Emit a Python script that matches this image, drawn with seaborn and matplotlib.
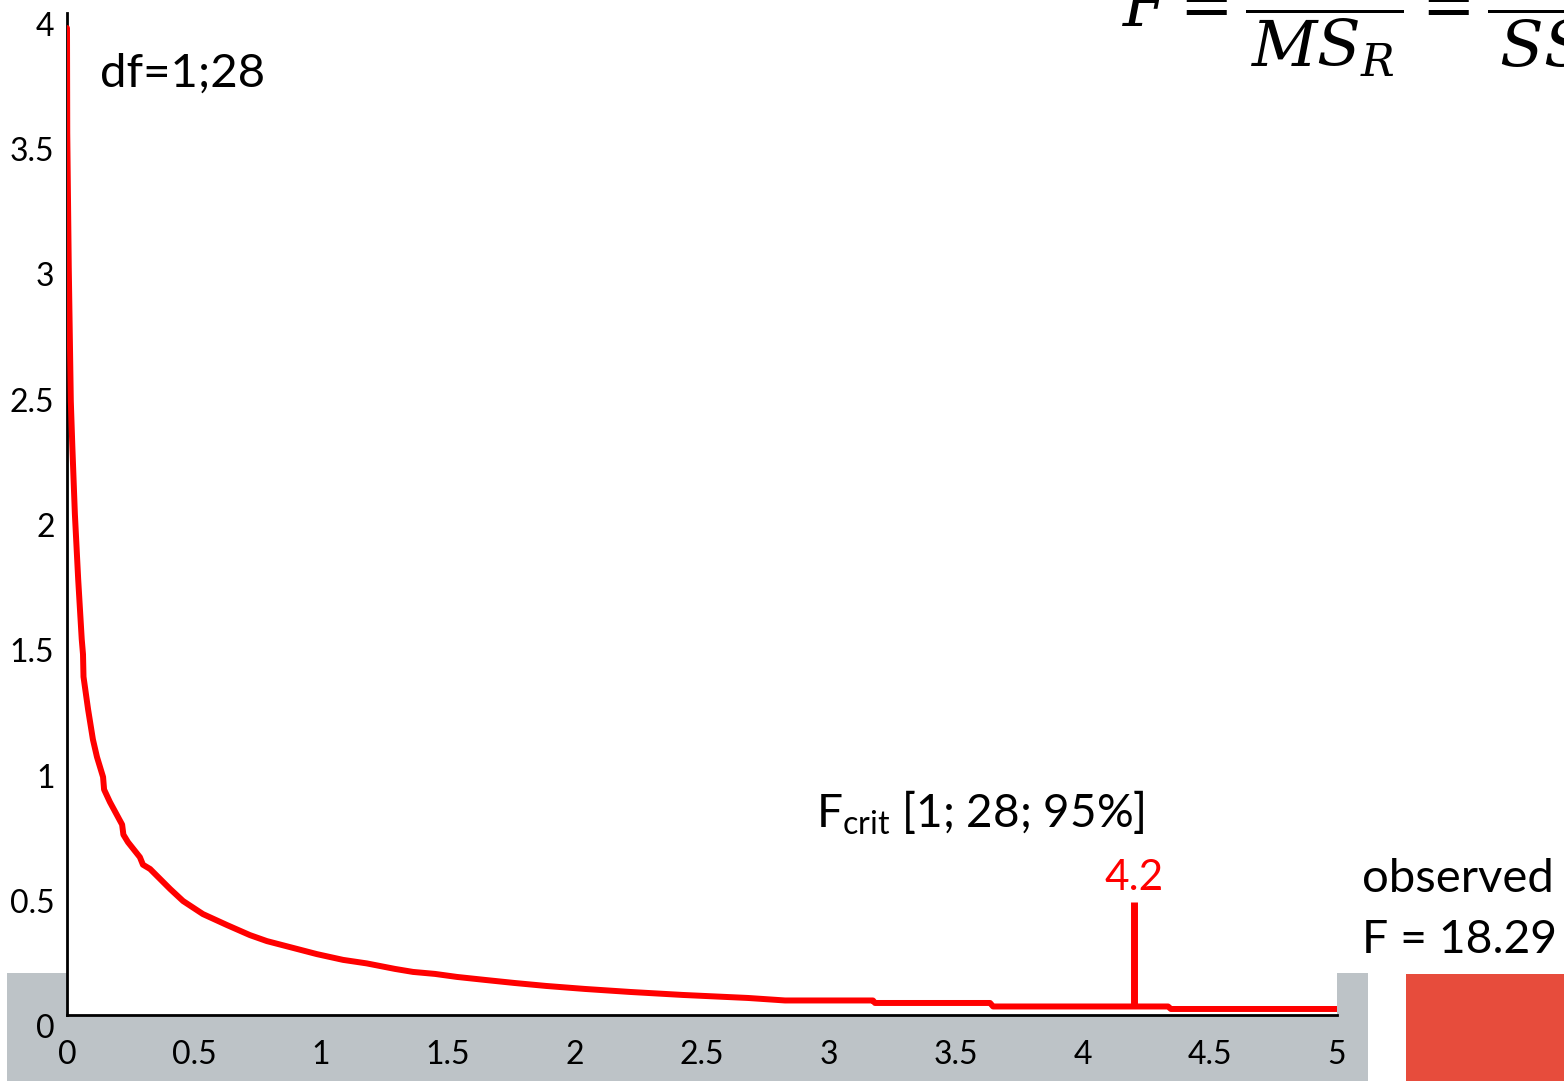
import numpy as np
import pandas as pd
import seaborn as sns
import matplotlib
matplotlib.use("Agg")
import matplotlib.pyplot as plt
from matplotlib.patches import Rectangle
from matplotlib.transforms import ScaledTranslation

# F(1, 28) density, sampled along the curve
f_values = [0.000, 0.001, 0.007, 0.015, 0.021, 0.031, 0.044, 0.058, 0.063, 0.065,
            0.083, 0.102, 0.118, 0.142, 0.146, 0.169, 0.217, 0.222, 0.240, 0.287,
            0.299, 0.327, 0.406, 0.457, 0.535, 0.630, 0.720, 0.787, 0.878, 0.984,
            1.087, 1.180, 1.291, 1.362, 1.449, 1.535, 1.646, 1.760, 1.886, 2.039,
            2.217, 2.425, 2.681, 2.827, 3.173, 3.181, 3.634, 3.646, 4.335, 4.346,
            5.000]
density = [3.94, 3.52, 2.98, 2.45, 2.27, 2.00, 1.74, 1.50, 1.44, 1.35,
           1.22, 1.10, 1.03, 0.95, 0.90, 0.85, 0.76, 0.72, 0.69, 0.63,
           0.60, 0.583, 0.503, 0.455, 0.403, 0.359, 0.319, 0.295, 0.271, 0.243,
           0.220, 0.206, 0.184, 0.172, 0.164, 0.152, 0.14, 0.128, 0.116, 0.104,
           0.092, 0.08, 0.068, 0.058, 0.058, 0.048, 0.048, 0.034, 0.034, 0.024,
           0.024]

x_ticks = [0, 0.5, 1, 1.5, 2, 2.5, 3, 3.5, 4, 4.5, 5]
x_tick_labels = ["0", "0.5", "1", "1.5", "2", "2.5", "3", "3.5", "4", "4.5", "5"]
y_ticks = [0, 0.5, 1, 1.5, 2, 2.5, 3, 3.5, 4]
y_tick_labels = ["0", "0.5", "1", "1.5", "2", "2.5", "3", "3.5", "4"]

df_num, df_den = 1, 28
F_CRIT = 4.2
CRIT_MARKER_TOP = 0.45
F_OBS = 18.29

sns.set_theme(style="white")
plt.rcParams["font.family"] = ["Lato", "DejaVu Sans"]
plt.rcParams["text.color"] = "black"
plt.rcParams["xtick.color"] = "black"
plt.rcParams["ytick.color"] = "black"

W, H = 1564, 1081
DPI = 100
fig = plt.figure(figsize=(W / DPI, H / DPI), dpi=DPI)
fig.patch.set_facecolor("white")


def fx(px):
    return px / W


def fy(py):
    return 1 - py / H


# slide decoration: grey strip behind the axis labels, red block at right
fig.add_artist(Rectangle((fx(7), 0), (1368 - 7) / W, (H - 973) / H,
                         transform=fig.transFigure, color="#BDC3C7",
                         zorder=-1, lw=0))
fig.add_artist(Rectangle((fx(1406), 0), (W - 1406) / W, (H - 974) / H,
                         transform=fig.transFigure, color="#E74C3C",
                         zorder=2, lw=0))

ax = fig.add_axes([fx(67), fy(1015), 1270 / W, (1015 - 13) / H])
ax.set_facecolor("white")

curve = pd.DataFrame({"F": f_values, "density": density})
sns.lineplot(data=curve, x="F", y="density", ax=ax, color="#FF0000",
             linewidth=4.3, sort=False, estimator=None, zorder=4)

# critical value marker
crit_base = np.interp(F_CRIT, f_values, density)
ax.vlines(F_CRIT, crit_base, CRIT_MARKER_TOP, color="#FF0000", linewidth=5,
          zorder=4)
ax.text(F_CRIT, CRIT_MARKER_TOP + 0.02, f"{F_CRIT:.1f}", color="#FF0000",
        fontsize=30.5, ha="center", va="bottom")

ax.set_xlim(0, 5)
ax.set_ylim(0, 4)
ax.set_xticks(x_ticks)
ax.set_xticklabels(x_tick_labels)
ax.set_yticks(y_ticks)
ax.set_yticklabels(y_tick_labels)
ax.set_xlabel("")
ax.set_ylabel("")

for side in ("top", "right"):
    ax.spines[side].set_visible(False)
for side in ("left", "bottom"):
    ax.spines[side].set_color("black")
    ax.spines[side].set_linewidth(2)

ax.tick_params(axis="x", direction="in", length=11, width=1.8, color="black",
               labelsize=23, pad=18, labelcolor="black")
ax.tick_params(axis="y", direction="in", length=9.5, width=1.8, color="black",
               labelsize=23, pad=9, labelcolor="black")
shift = ScaledTranslation(0, -11 / DPI, fig.dpi_scale_trans)
for lab in ax.get_yticklabels():
    lab.set_transform(lab.get_transform() + shift)

# annotations
fig.text(fx(100), fy(87), f"df={df_num};{df_den}", fontsize=34,
         ha="left", va="baseline")
fig.text(fx(816), fy(828),
         r"$\mathregular{F_{crit}}$" + f" [{df_num}; {df_den}; 95%]",
         fontsize=33, ha="left", va="baseline")
fig.text(fx(1362), fy(892), "observed", fontsize=34, ha="left", va="baseline")
fig.text(fx(1362), fy(953), f"F = {F_OBS:.2f}", fontsize=33.3, ha="left",
         va="baseline")

# test statistic definition
fig.text(fx(1122), fy(9),
         r"$F=\dfrac{MS_M}{MS_R}=\dfrac{SS_M/df_M}{SS_R/df_R}$",
         fontsize=46, ha="left", va="center", math_fontfamily="dejavuserif")

fig.savefig("out.png", dpi=DPI)
